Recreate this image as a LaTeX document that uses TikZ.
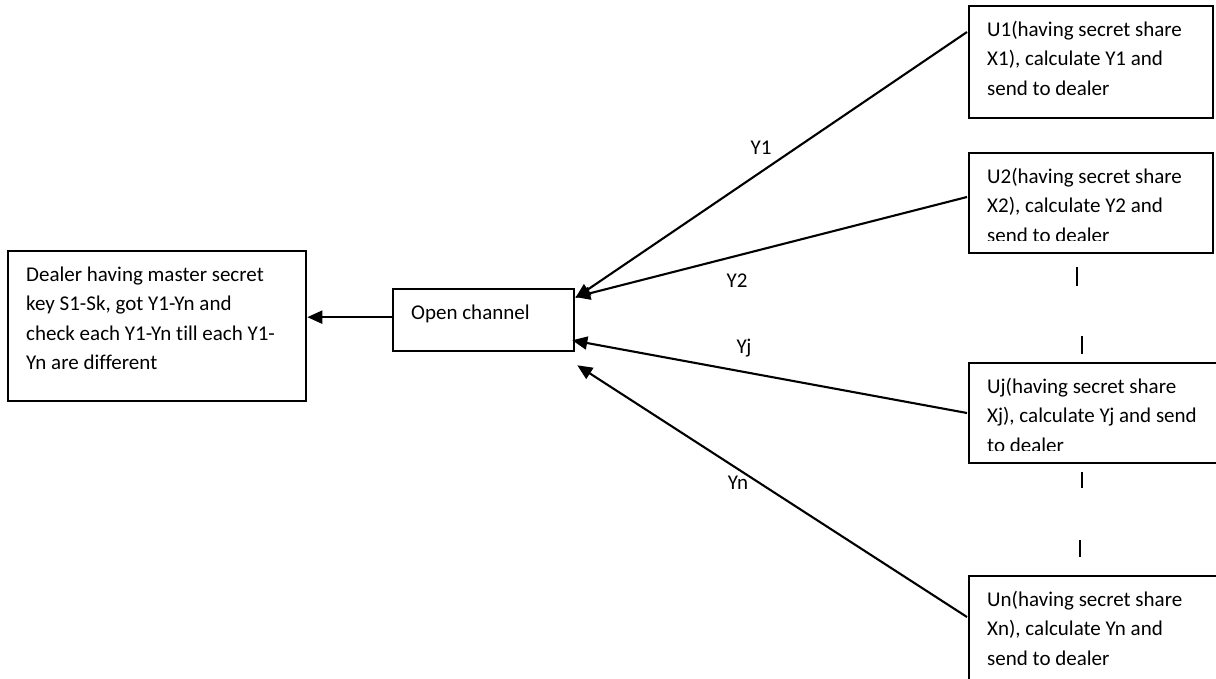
\documentclass[tikz,border=0pt]{standalone}
\usepackage{fontspec}
\setmainfont[Ligatures={NoCommon}]{Carlito}
\usetikzlibrary{arrows.meta,calc}

\tikzset{
  boxframe/.style={draw=black, line width=2.3pt, rectangle, inner sep=0pt, anchor=north west},
  boxtext/.style={inner sep=0pt, anchor=base west, font=\fontsize{21}{29.5}\selectfont},
  flow/.style={draw=black, line width=2.1pt, -{Triangle[length=15pt,width=13pt]}},
  flowlabel/.style={inner sep=0pt, anchor=base, font=\fontsize{21}{29.5}\selectfont},
  dots/.style={draw=black, line width=2.4pt}
}

% framed box whose text is clipped some way above the bottom edge
% #1 name, #2 x, #3 y, #4 width, #5 height, #6 lines of text
\newcommand\clippedbox[6]{%
  \node[boxframe, minimum width=#4pt, minimum height=#5pt] (#1) at (#2,#3) {};
  \begin{scope}
    \clip (#1.north west) rectangle ([yshift=14pt]#1.south east);
    \node[boxtext] (#1-text) at ([xshift=19pt,yshift=-31pt]#1.north west)
      {\parbox[t]{400pt}{\raggedright #6}};
  \end{scope}
}

\begin{document}
\begin{tikzpicture}[x=1pt,y=-1pt]
  \path[use as bounding box, fill=white] (0,0) rectangle (1216,678);

  % dealer and the open channel
  \clippedbox{dealer}{7}{250}{298}{150}{Dealer having master secret\\key S1-Sk, got Y1-Yn and\\check each Y1-Yn till each Y1-\\Yn are different}
  \clippedbox{open}{392}{288}{181}{62}{Open channel}

  % participants
  \clippedbox{u1}{968}{5}{244}{112}{U1(having secret share\\X1), calculate Y1 and\\send to dealer}
  \clippedbox{u2}{968}{152}{244}{100}{U2(having secret share\\X2), calculate Y2 and\\send to dealer}
  \clippedbox{uj}{968}{362}{270}{100}{Uj(having secret share\\Xj), calculate Yj and send\\to dealer}
  \clippedbox{un}{968}{575}{270}{130}{Un(having secret share\\Xn), calculate Yn and\\send to dealer}

  % channel forwards to the dealer
  \draw[flow] ($(open.west)+(0,-3)$) -- ($(open.west -| dealer.east)+(0,-3)$);

  % shares sent over the open channel
  \draw[flow] ($(u1.north west)+(-1,27)$) -- ($(open.north east)+(0,10)$);
  \draw[flow] ($(u2.north west)+(-1,45)$) -- ($(open.north east)+(0,9)$);
  \draw[flow] ($(uj.north west)+(-1,51)$) -- ($(open.south east)+(-3,-12)$);
  \draw[flow] ($(un.north west)+(-1,42)$) -- ($(open.south east)+(2,13)$);

  % labels on the connectors
  \node[flowlabel] (y1) at (761,154) {Y1};
  \node[flowlabel] (y2) at (737,287) {Y2};
  \node[flowlabel] (yj) at (744,353) {Yj};
  \node[flowlabel] (yn) at (738,489) {Yn};

  % vertical ellipsis marks between the participants
  \draw[dots] (1077,267) -- (1077,286);
  \draw[dots] (1082,336) -- (1082,354);
  \draw[dots] (1082,472) -- (1082,488);
  \draw[dots] (1080,540) -- (1080,557);
\end{tikzpicture}
\end{document}
